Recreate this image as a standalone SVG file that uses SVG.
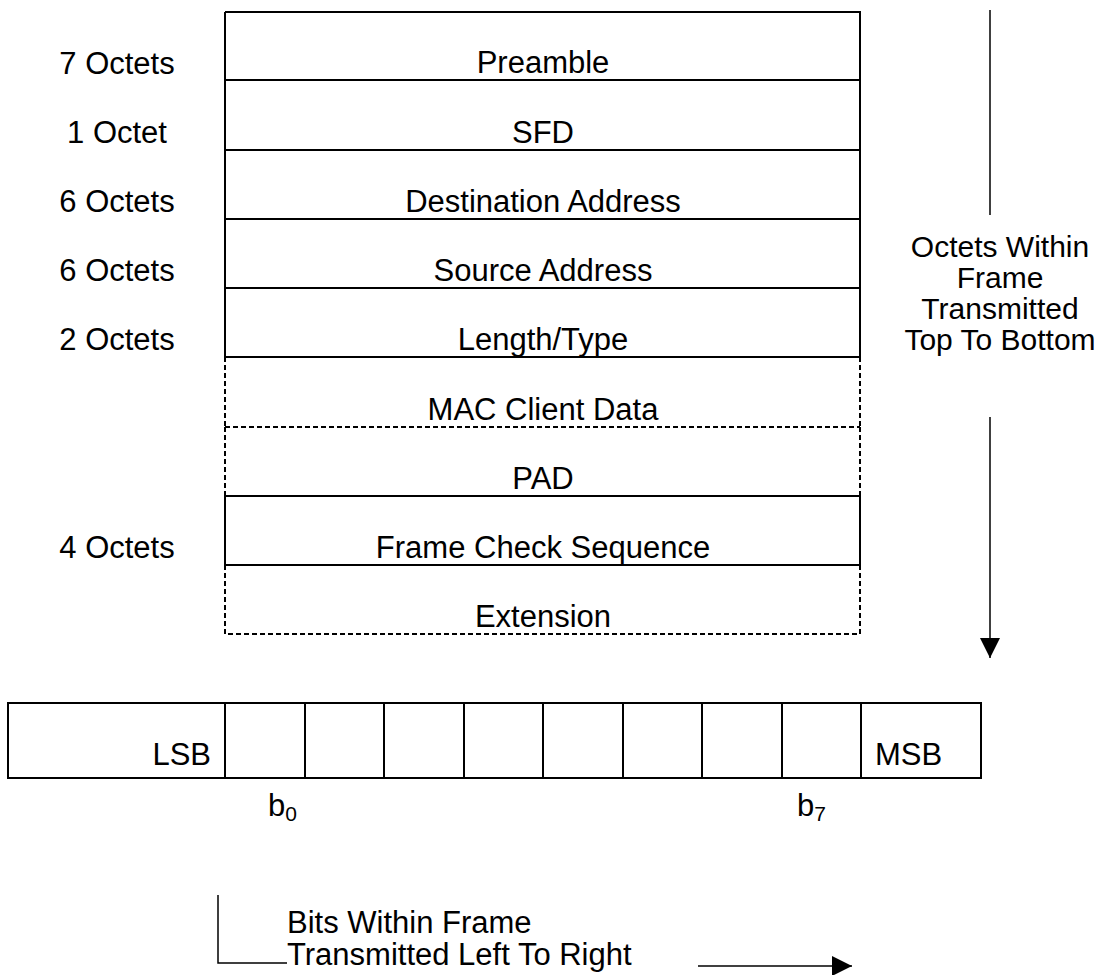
<svg xmlns="http://www.w3.org/2000/svg" width="1109" height="975" viewBox="0 0 1109 975">
<style>
text{font-family:"Liberation Sans",Arial,sans-serif;font-size:31px;fill:#000}
.c{text-anchor:middle}
.r{font-size:30px}
.s{stroke:#000;stroke-width:2;fill:none}
.d{stroke:#000;stroke-width:2;fill:none;stroke-dasharray:5 3}
.a{stroke:#000;stroke-width:1.5;fill:none}
</style>
<defs>
<marker id="ah" viewBox="0 0 20 20" refX="20" refY="10" markerWidth="20" markerHeight="20" markerUnits="userSpaceOnUse" orient="auto">
<path d="M0,0 L20,10 L0,20 Z" fill="#000"/>
</marker>
</defs>
<rect width="1109" height="975" fill="#fff"/>
<g id="preamble"><path class="s" d="M225,12 H860 V80 M225,12 V80"/><text class="c" x="543" y="73">Preamble</text><text class="c" x="117" y="74">7 Octets</text></g>
<g id="sfd"><path class="s" d="M225,80 H860 V150 M225,80 V150"/><text class="c" x="543" y="143">SFD</text><text class="c" x="117" y="143">1 Octet</text></g>
<g id="dest"><path class="s" d="M225,150 H860 V219 M225,150 V219"/><text class="c" x="543" y="212">Destination Address</text><text class="c" x="117" y="212">6 Octets</text></g>
<g id="src"><path class="s" d="M225,219 H860 V288 M225,219 V288"/><text class="c" x="543" y="281">Source Address</text><text class="c" x="117" y="281">6 Octets</text></g>
<g id="lentype"><path class="s" d="M225,288 H860 V357 M225,288 V357 M225,357 H860"/><text class="c" x="543" y="350">Length/Type</text><text class="c" x="117" y="350">2 Octets</text></g>
<g id="macdata"><path class="d" d="M225,357 V427 M860,357 V427 M225,427 H860"/><text class="c" x="543" y="420">MAC Client Data</text></g>
<g id="pad"><path class="d" d="M225,427 V496 M860,427 V496"/><text class="c" x="543" y="489">PAD</text></g>
<g id="fcs"><path class="s" d="M225,496 H860 V565 H225 Z"/><text class="c" x="543" y="558">Frame Check Sequence</text><text class="c" x="117" y="558">4 Octets</text></g>
<g id="extension"><path class="d" d="M225,565 V634 H860 V565"/><text class="c" x="543" y="627">Extension</text></g>
<g id="bits"><rect class="s" x="8" y="703" width="973" height="75"/>
<path class="s" d="M225,703 V778 M305,703 V778 M384,703 V778 M464,703 V778 M543,703 V778 M623,703 V778 M702,703 V778 M782,703 V778 M861,703 V778"/>
<text x="211" y="765" text-anchor="end">LSB</text><text x="875" y="765">MSB</text>
<text x="268" y="816">b<tspan font-size="21" dy="5">0</tspan></text>
<text x="797" y="816">b<tspan font-size="21" dy="5">7</tspan></text></g>
<g id="octets-label"><text class="c r" x="1000" y="257">Octets Within</text><text class="c r" x="1000" y="288">Frame</text><text class="c r" x="1000" y="319">Transmitted</text><text class="c r" x="1000" y="350">Top To Bottom</text></g>
<g id="bits-label"><text x="287" y="933">Bits Within Frame</text><text x="287" y="965">Transmitted Left To Right</text></g>
<g id="connectors">
<path class="a" d="M990,10 V215"/>
<path class="a" d="M990,417 V658" marker-end="url(#ah)"/>
<path class="a" d="M218,895 V963 H287"/>
<path class="a" d="M698,966 H852" marker-end="url(#ah)"/>
</g>
</svg>
